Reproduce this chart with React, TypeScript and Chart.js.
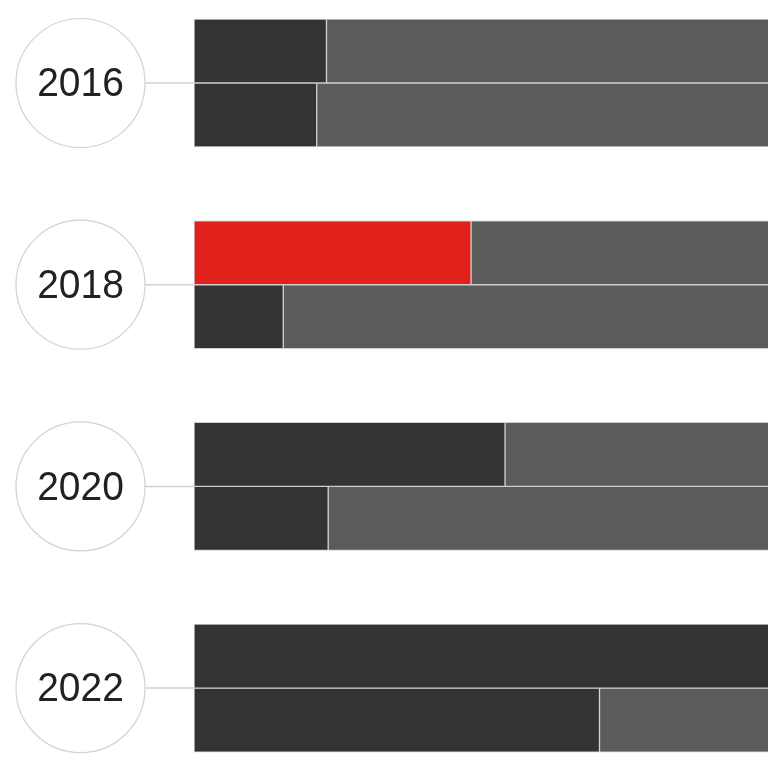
import React, { useEffect, useRef } from "react";
import { Chart, registerables } from "chart.js";

Chart.register(...registerables);

const years = ["2016", "2018", "2020", "2022"];
const topDark = [23.0, 48.1, 54.0, 100];
const topRest = [77.0, 51.9, 46.0, 0];
const bottomDark = [21.3, 15.5, 23.3, 70.4];
const bottomRest = [78.7, 84.5, 76.7, 29.6];
const highlightIndex = 1;

const DARK = "#333333";
const GRAY = "#5b5b5b";
const RED = "#e2211c";
const BORDER = "#cfcfcf";

const circlePlugin = {
  id: "yearCircles",
  afterDraw(chart: any) {
    const { ctx, chartArea } = chart;
    const yScale = chart.scales.y;
    const cx = chartArea.left - 113.5;
    const r = 64.5;
    ctx.save();
    years.forEach((label, i) => {
      const y = yScale.getPixelForValue(i);
      ctx.strokeStyle = "#d2d2d2";
      ctx.lineWidth = 1.5;
      ctx.beginPath();
      ctx.moveTo(cx + r, y);
      ctx.lineTo(chartArea.left, y);
      ctx.stroke();
      ctx.beginPath();
      ctx.arc(cx, y, r, 0, Math.PI * 2);
      ctx.fillStyle = "#ffffff";
      ctx.fill();
      ctx.lineWidth = 1.2;
      ctx.stroke();
      ctx.fillStyle = "#222222";
      ctx.font = "41px 'Liberation Sans', Arial, sans-serif";
      ctx.textAlign = "center";
      ctx.textBaseline = "middle";
      ctx.translate(cx, y + 2);
      ctx.scale(0.95, 1);
      ctx.fillText(label, 0, 0);
      ctx.setTransform(1, 0, 0, 1, 0, 0);
    });
    ctx.restore();
  },
};

export default function App() {
  const ref = useRef<HTMLCanvasElement>(null);
  useEffect(() => {
    if (!ref.current) return;
    const mk = (vals: number[]) => vals.map((v, i) => ({ x: v, y: i }));
    const chart = new Chart(ref.current, {
      type: "bar",
      data: {
        datasets: [
          {
            label: "top-dark",
            data: mk(topDark),
            stack: "top",
            backgroundColor: years.map((_, i) => (i === highlightIndex ? RED : DARK)),
          },
          { label: "top-rest", data: mk(topRest), stack: "top", backgroundColor: GRAY },
          { label: "bottom-dark", data: mk(bottomDark), stack: "bottom", backgroundColor: DARK },
          { label: "bottom-rest", data: mk(bottomRest), stack: "bottom", backgroundColor: GRAY },
        ] as any,
      },
      options: {
        indexAxis: "y",
        animation: false,
        responsive: true,
        maintainAspectRatio: false,
        devicePixelRatio: 1,
        layout: { padding: { left: 194, right: 0, top: 0, bottom: 0 } },
        datasets: {
          bar: {
            barThickness: 64,
            borderWidth: 1,
            borderColor: BORDER,
            borderSkipped: false,
          } as any,
        },
        plugins: { legend: { display: false }, tooltip: { enabled: false } },
        scales: {
          x: { stacked: true, min: 0, max: 100, display: false },
          y: {
            type: "linear",
            min: -0.4115,
            max: 3.396,
            reverse: true,
            bounds: "data",
            offset: false,
            grid: { offset: false },
            display: false,
          },
        },
      } as any,
      plugins: [circlePlugin],
    });
    return () => chart.destroy();
  }, []);
  return (
    <div style={{ position: "fixed", left: 0, top: 0, width: 768, height: 768, overflow: "hidden", background: "#fff" }}>
      <div style={{ position: "relative", width: 770, height: 768 }}>
        <canvas ref={ref} />
      </div>
    </div>
  );
}
